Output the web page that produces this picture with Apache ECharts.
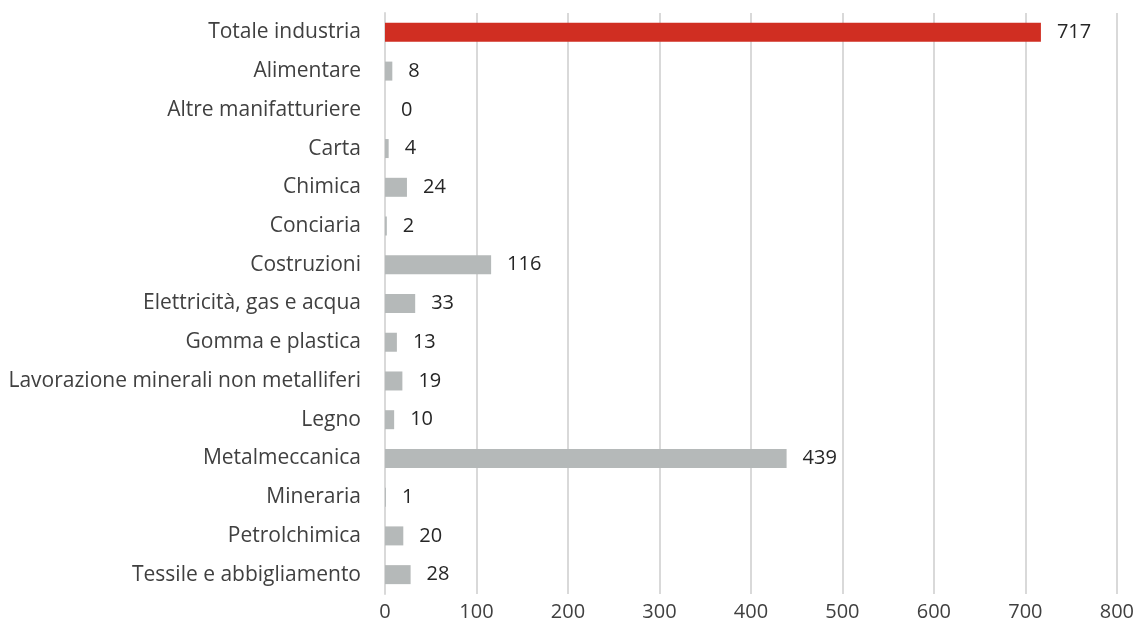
<!DOCTYPE html>
<html><head><meta charset="utf-8">
<script src="https://cdn.jsdelivr.net/npm/echarts@6/dist/echarts.min.js"></script>
<style>html,body{margin:0;padding:0;background:#fff}#c{width:1137px;height:635px}</style>
</head><body><div id="c"></div>
<script>
const categories = ["Totale industria","Alimentare","Altre manifatturiere","Carta","Chimica","Conciaria","Costruzioni","Elettricità, gas e acqua","Gomma e plastica","Lavorazione minerali non metalliferi","Legno","Metalmeccanica","Mineraria","Petrolchimica","Tessile e abbigliamento"];
const values = [717,8,0,4,24,2,116,33,13,19,10,439,1,20,28];
const highlight = "Totale industria";
const xTicks = [0,100,200,300,400,500,600,700,800];

const chart = echarts.init(document.getElementById('c'));
const font = "'Open Sans', sans-serif";
chart.setOption({
  animation:false,
  grid:{left:385,right:20,top:13,bottom:41,containLabel:false},
  xAxis:{type:'value',min:0,max:800,interval:100,
    axisLine:{show:false},axisTick:{show:false},
    splitLine:{lineStyle:{color:'#D9D9D9',width:2}},
    axisLabel:{color:'#404040',fontSize:20,fontFamily:font,margin:8,
      formatter:v=>xTicks.includes(v)?String(v):''}},
  yAxis:{type:'category',data:categories,inverse:true,
    axisLine:{show:true,lineStyle:{color:'#D9D9D9',width:2}},axisTick:{show:false},
    axisLabel:{color:'#404040',fontSize:21,fontFamily:font,margin:24}},
  series:[{type:'bar',barWidth:19,
    data:values.map((v,i)=>({value:v,itemStyle:{color:categories[i]===highlight?'#D02E22':'#B5B9B9'}})),
    label:{show:true,position:'right',distance:16,color:'#262626',fontSize:20,fontFamily:font}}]
});
</script></body></html>
